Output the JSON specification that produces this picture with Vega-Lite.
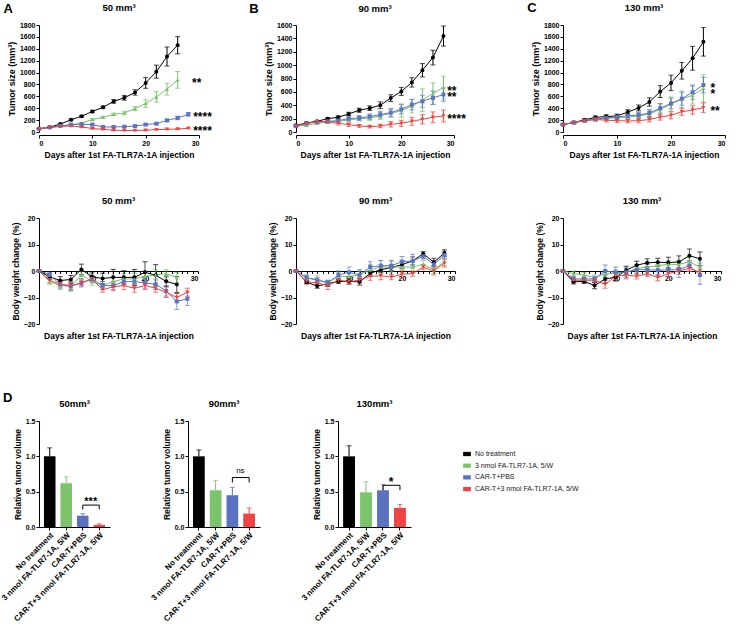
{
"$schema":"https://vega.github.io/schema/vega-lite/v6.json",
"padding":{"left":0,"top":2,"right":0,"bottom":0},
"background":"white",
"spacing":52,
"resolve":{"scale":{"color":"independent","shape":"independent"},"legend":{"color":"independent","shape":"independent"}},
"datasets":{
"tum":[
{"p":"A","g":"N","d":0,"v":55,"e":5},{"p":"A","g":"N","d":2,"v":80,"e":8},{"p":"A","g":"N","d":4,"v":135,"e":12},{"p":"A","g":"N","d":6,"v":205,"e":15},{"p":"A","g":"N","d":8,"v":265,"e":15},{"p":"A","g":"N","d":10,"v":345,"e":20},{"p":"A","g":"N","d":12,"v":415,"e":22},{"p":"A","g":"N","d":14,"v":515,"e":30},{"p":"A","g":"N","d":16,"v":575,"e":40},{"p":"A","g":"N","d":18,"v":665,"e":45},{"p":"A","g":"N","d":20,"v":825,"e":90},{"p":"A","g":"N","d":22,"v":1015,"e":110},{"p":"A","g":"N","d":24,"v":1270,"e":160},{"p":"A","g":"N","d":26,"v":1460,"e":145},
{"p":"A","g":"G","d":0,"v":55,"e":5},{"p":"A","g":"G","d":2,"v":78,"e":6},{"p":"A","g":"G","d":4,"v":95,"e":8},{"p":"A","g":"G","d":6,"v":120,"e":10},{"p":"A","g":"G","d":8,"v":150,"e":12},{"p":"A","g":"G","d":10,"v":210,"e":15},{"p":"A","g":"G","d":12,"v":247,"e":18},{"p":"A","g":"G","d":14,"v":298,"e":22},{"p":"A","g":"G","d":16,"v":320,"e":30},{"p":"A","g":"G","d":18,"v":394,"e":35},{"p":"A","g":"G","d":20,"v":478,"e":65},{"p":"A","g":"G","d":22,"v":590,"e":90},{"p":"A","g":"G","d":24,"v":720,"e":100},{"p":"A","g":"G","d":26,"v":877,"e":140},
{"p":"A","g":"B","d":0,"v":55,"e":5},{"p":"A","g":"B","d":2,"v":78,"e":6},{"p":"A","g":"B","d":4,"v":105,"e":8},{"p":"A","g":"B","d":6,"v":125,"e":10},{"p":"A","g":"B","d":8,"v":130,"e":12},{"p":"A","g":"B","d":10,"v":125,"e":12},{"p":"A","g":"B","d":12,"v":85,"e":10},{"p":"A","g":"B","d":14,"v":85,"e":10},{"p":"A","g":"B","d":16,"v":90,"e":10},{"p":"A","g":"B","d":18,"v":100,"e":12},{"p":"A","g":"B","d":20,"v":125,"e":15},{"p":"A","g":"B","d":22,"v":140,"e":15},{"p":"A","g":"B","d":24,"v":195,"e":20},{"p":"A","g":"B","d":26,"v":236,"e":30},{"p":"A","g":"B","d":28,"v":298,"e":30},
{"p":"A","g":"R","d":0,"v":55,"e":5},{"p":"A","g":"R","d":2,"v":75,"e":6},{"p":"A","g":"R","d":4,"v":95,"e":8},{"p":"A","g":"R","d":6,"v":100,"e":10},{"p":"A","g":"R","d":8,"v":85,"e":10},{"p":"A","g":"R","d":10,"v":58,"e":10},{"p":"A","g":"R","d":12,"v":45,"e":8},{"p":"A","g":"R","d":14,"v":30,"e":6},{"p":"A","g":"R","d":16,"v":25,"e":5},{"p":"A","g":"R","d":18,"v":25,"e":5},{"p":"A","g":"R","d":20,"v":30,"e":5},{"p":"A","g":"R","d":22,"v":40,"e":6},{"p":"A","g":"R","d":24,"v":45,"e":6},{"p":"A","g":"R","d":26,"v":50,"e":6},{"p":"A","g":"R","d":28,"v":62,"e":8},
{"p":"B","g":"N","d":0,"v":100,"e":10},{"p":"B","g":"N","d":2,"v":135,"e":12},{"p":"B","g":"N","d":4,"v":160,"e":12},{"p":"B","g":"N","d":6,"v":200,"e":15},{"p":"B","g":"N","d":8,"v":220,"e":20},{"p":"B","g":"N","d":10,"v":270,"e":25},{"p":"B","g":"N","d":12,"v":325,"e":30},{"p":"B","g":"N","d":14,"v":356,"e":35},{"p":"B","g":"N","d":16,"v":400,"e":50},{"p":"B","g":"N","d":18,"v":507,"e":50},{"p":"B","g":"N","d":20,"v":607,"e":60},{"p":"B","g":"N","d":22,"v":742,"e":70},{"p":"B","g":"N","d":24,"v":923,"e":100},{"p":"B","g":"N","d":26,"v":1113,"e":110},{"p":"B","g":"N","d":28,"v":1435,"e":150},
{"p":"B","g":"G","d":0,"v":90,"e":10},{"p":"B","g":"G","d":2,"v":100,"e":15},{"p":"B","g":"G","d":4,"v":130,"e":15},{"p":"B","g":"G","d":6,"v":150,"e":20},{"p":"B","g":"G","d":8,"v":160,"e":25},{"p":"B","g":"G","d":10,"v":180,"e":30},{"p":"B","g":"G","d":12,"v":200,"e":35},{"p":"B","g":"G","d":14,"v":210,"e":40},{"p":"B","g":"G","d":16,"v":240,"e":50},{"p":"B","g":"G","d":18,"v":280,"e":60},{"p":"B","g":"G","d":20,"v":320,"e":100},{"p":"B","g":"G","d":22,"v":385,"e":100},{"p":"B","g":"G","d":24,"v":475,"e":170},{"p":"B","g":"G","d":26,"v":575,"e":160},{"p":"B","g":"G","d":28,"v":665,"e":170},
{"p":"B","g":"B","d":0,"v":90,"e":10},{"p":"B","g":"B","d":2,"v":130,"e":15},{"p":"B","g":"B","d":4,"v":150,"e":15},{"p":"B","g":"B","d":6,"v":160,"e":20},{"p":"B","g":"B","d":8,"v":170,"e":25},{"p":"B","g":"B","d":10,"v":200,"e":30},{"p":"B","g":"B","d":12,"v":210,"e":35},{"p":"B","g":"B","d":14,"v":230,"e":40},{"p":"B","g":"B","d":16,"v":260,"e":50},{"p":"B","g":"B","d":18,"v":290,"e":60},{"p":"B","g":"B","d":20,"v":340,"e":70},{"p":"B","g":"B","d":22,"v":410,"e":80},{"p":"B","g":"B","d":24,"v":460,"e":90},{"p":"B","g":"B","d":26,"v":510,"e":100},{"p":"B","g":"B","d":28,"v":560,"e":100},
{"p":"B","g":"R","d":0,"v":90,"e":10},{"p":"B","g":"R","d":2,"v":130,"e":15},{"p":"B","g":"R","d":4,"v":150,"e":15},{"p":"B","g":"R","d":6,"v":150,"e":20},{"p":"B","g":"R","d":8,"v":130,"e":25},{"p":"B","g":"R","d":10,"v":110,"e":25},{"p":"B","g":"R","d":12,"v":90,"e":20},{"p":"B","g":"R","d":14,"v":80,"e":20},{"p":"B","g":"R","d":16,"v":90,"e":25},{"p":"B","g":"R","d":18,"v":115,"e":40},{"p":"B","g":"R","d":20,"v":130,"e":45},{"p":"B","g":"R","d":22,"v":160,"e":60},{"p":"B","g":"R","d":24,"v":190,"e":70},{"p":"B","g":"R","d":26,"v":220,"e":80},{"p":"B","g":"R","d":28,"v":240,"e":90},
{"p":"C","g":"N","d":0,"v":125,"e":10},{"p":"C","g":"N","d":2,"v":160,"e":15},{"p":"C","g":"N","d":4,"v":205,"e":20},{"p":"C","g":"N","d":6,"v":245,"e":25},{"p":"C","g":"N","d":8,"v":260,"e":30},{"p":"C","g":"N","d":10,"v":270,"e":30},{"p":"C","g":"N","d":12,"v":335,"e":40},{"p":"C","g":"N","d":14,"v":405,"e":50},{"p":"C","g":"N","d":16,"v":505,"e":70},{"p":"C","g":"N","d":18,"v":680,"e":100},{"p":"C","g":"N","d":20,"v":826,"e":130},{"p":"C","g":"N","d":22,"v":1030,"e":140},{"p":"C","g":"N","d":24,"v":1240,"e":200},{"p":"C","g":"N","d":26,"v":1517,"e":240},
{"p":"C","g":"G","d":0,"v":125,"e":10},{"p":"C","g":"G","d":2,"v":160,"e":15},{"p":"C","g":"G","d":4,"v":190,"e":20},{"p":"C","g":"G","d":6,"v":215,"e":25},{"p":"C","g":"G","d":8,"v":230,"e":30},{"p":"C","g":"G","d":10,"v":240,"e":35},{"p":"C","g":"G","d":12,"v":250,"e":40},{"p":"C","g":"G","d":14,"v":270,"e":45},{"p":"C","g":"G","d":16,"v":300,"e":60},{"p":"C","g":"G","d":18,"v":380,"e":90},{"p":"C","g":"G","d":20,"v":470,"e":120},{"p":"C","g":"G","d":22,"v":550,"e":140},{"p":"C","g":"G","d":24,"v":620,"e":150},{"p":"C","g":"G","d":26,"v":730,"e":230},
{"p":"C","g":"B","d":0,"v":125,"e":10},{"p":"C","g":"B","d":2,"v":160,"e":15},{"p":"C","g":"B","d":4,"v":190,"e":20},{"p":"C","g":"B","d":6,"v":215,"e":25},{"p":"C","g":"B","d":8,"v":235,"e":30},{"p":"C","g":"B","d":10,"v":255,"e":35},{"p":"C","g":"B","d":12,"v":270,"e":40},{"p":"C","g":"B","d":14,"v":285,"e":45},{"p":"C","g":"B","d":16,"v":320,"e":60},{"p":"C","g":"B","d":18,"v":400,"e":80},{"p":"C","g":"B","d":20,"v":480,"e":90},{"p":"C","g":"B","d":22,"v":560,"e":110},{"p":"C","g":"B","d":24,"v":670,"e":120},{"p":"C","g":"B","d":26,"v":790,"e":130},
{"p":"C","g":"R","d":0,"v":125,"e":10},{"p":"C","g":"R","d":2,"v":160,"e":15},{"p":"C","g":"R","d":4,"v":190,"e":20},{"p":"C","g":"R","d":6,"v":210,"e":25},{"p":"C","g":"R","d":8,"v":200,"e":30},{"p":"C","g":"R","d":10,"v":190,"e":30},{"p":"C","g":"R","d":12,"v":185,"e":30},{"p":"C","g":"R","d":14,"v":190,"e":35},{"p":"C","g":"R","d":16,"v":210,"e":40},{"p":"C","g":"R","d":18,"v":250,"e":50},{"p":"C","g":"R","d":20,"v":280,"e":60},{"p":"C","g":"R","d":22,"v":340,"e":60},{"p":"C","g":"R","d":24,"v":370,"e":70},{"p":"C","g":"R","d":26,"v":410,"e":80}
],
"bw":[
{"p":"A","g":"N","d":0,"v":0,"e":0.3},{"p":"A","g":"N","d":2,"v":-2.2,"e":1},{"p":"A","g":"N","d":4,"v":-3.6,"e":1.5},{"p":"A","g":"N","d":6,"v":-3.2,"e":1.5},{"p":"A","g":"N","d":8,"v":0.6,"e":2},{"p":"A","g":"N","d":10,"v":-2.2,"e":1.5},{"p":"A","g":"N","d":12,"v":-2.8,"e":2},{"p":"A","g":"N","d":14,"v":-2.4,"e":3},{"p":"A","g":"N","d":16,"v":-2.4,"e":2.5},{"p":"A","g":"N","d":18,"v":-2.4,"e":3},{"p":"A","g":"N","d":20,"v":-0.5,"e":4},{"p":"A","g":"N","d":22,"v":-1.6,"e":4},{"p":"A","g":"N","d":24,"v":-3.9,"e":2},{"p":"A","g":"N","d":26,"v":-5.1,"e":3},
{"p":"A","g":"G","d":0,"v":0,"e":0.3},{"p":"A","g":"G","d":2,"v":-4,"e":1},{"p":"A","g":"G","d":4,"v":-5.5,"e":1.5},{"p":"A","g":"G","d":6,"v":-5.8,"e":2},{"p":"A","g":"G","d":8,"v":-1.5,"e":1.5},{"p":"A","g":"G","d":10,"v":-4,"e":1.5},{"p":"A","g":"G","d":12,"v":-5.5,"e":1.5},{"p":"A","g":"G","d":14,"v":-4,"e":2},{"p":"A","g":"G","d":16,"v":-3,"e":2},{"p":"A","g":"G","d":18,"v":-3,"e":2},{"p":"A","g":"G","d":20,"v":-2,"e":2},{"p":"A","g":"G","d":22,"v":-1.5,"e":2},{"p":"A","g":"G","d":24,"v":-1,"e":1.5},{"p":"A","g":"G","d":26,"v":-2.5,"e":2},
{"p":"A","g":"B","d":0,"v":0,"e":0.3},{"p":"A","g":"B","d":2,"v":-1.5,"e":1},{"p":"A","g":"B","d":4,"v":-5,"e":1.5},{"p":"A","g":"B","d":6,"v":-5.8,"e":1.5},{"p":"A","g":"B","d":8,"v":-4.5,"e":1.5},{"p":"A","g":"B","d":10,"v":-3,"e":1.5},{"p":"A","g":"B","d":12,"v":-5.5,"e":1.5},{"p":"A","g":"B","d":14,"v":-5.5,"e":1.5},{"p":"A","g":"B","d":16,"v":-4,"e":1.5},{"p":"A","g":"B","d":18,"v":-4,"e":2},{"p":"A","g":"B","d":20,"v":-4.5,"e":2},{"p":"A","g":"B","d":22,"v":-5,"e":2},{"p":"A","g":"B","d":24,"v":-7.5,"e":2},{"p":"A","g":"B","d":26,"v":-11.5,"e":3},{"p":"A","g":"B","d":28,"v":-10.5,"e":2.5},
{"p":"A","g":"R","d":0,"v":0,"e":0.3},{"p":"A","g":"R","d":2,"v":-3.5,"e":1},{"p":"A","g":"R","d":4,"v":-5,"e":1},{"p":"A","g":"R","d":6,"v":-5.5,"e":1.5},{"p":"A","g":"R","d":8,"v":-4.5,"e":1},{"p":"A","g":"R","d":10,"v":-3,"e":1},{"p":"A","g":"R","d":12,"v":-7,"e":1},{"p":"A","g":"R","d":14,"v":-6,"e":1.5},{"p":"A","g":"R","d":16,"v":-5.5,"e":1.5},{"p":"A","g":"R","d":18,"v":-6.5,"e":1.5},{"p":"A","g":"R","d":20,"v":-5.5,"e":1.5},{"p":"A","g":"R","d":22,"v":-6.5,"e":1.5},{"p":"A","g":"R","d":24,"v":-8,"e":2},{"p":"A","g":"R","d":26,"v":-10,"e":1.5},{"p":"A","g":"R","d":28,"v":-8,"e":1.5},
{"p":"B","g":"N","d":0,"v":0,"e":0.3},{"p":"B","g":"N","d":2,"v":-4.2,"e":0.5},{"p":"B","g":"N","d":4,"v":-5.7,"e":0.8},{"p":"B","g":"N","d":6,"v":-4.8,"e":1},{"p":"B","g":"N","d":8,"v":-3.9,"e":0.8},{"p":"B","g":"N","d":10,"v":-3.9,"e":1},{"p":"B","g":"N","d":12,"v":-4.1,"e":1.2},{"p":"B","g":"N","d":14,"v":-0.9,"e":1},{"p":"B","g":"N","d":16,"v":0.5,"e":1},{"p":"B","g":"N","d":18,"v":1.3,"e":1},{"p":"B","g":"N","d":20,"v":2.4,"e":1.5},{"p":"B","g":"N","d":22,"v":3.8,"e":1.5},{"p":"B","g":"N","d":24,"v":6.5,"e":0.8},{"p":"B","g":"N","d":26,"v":3.3,"e":1.5},{"p":"B","g":"N","d":28,"v":6.8,"e":1.2},
{"p":"B","g":"G","d":0,"v":0,"e":0.3},{"p":"B","g":"G","d":2,"v":-2.8,"e":1.2},{"p":"B","g":"G","d":4,"v":-3,"e":1.2},{"p":"B","g":"G","d":6,"v":-4.5,"e":1},{"p":"B","g":"G","d":8,"v":-2,"e":1.5},{"p":"B","g":"G","d":10,"v":-2,"e":1.5},{"p":"B","g":"G","d":12,"v":-1.5,"e":1.5},{"p":"B","g":"G","d":14,"v":0.5,"e":2},{"p":"B","g":"G","d":16,"v":1.5,"e":2.5},{"p":"B","g":"G","d":18,"v":1.5,"e":2},{"p":"B","g":"G","d":20,"v":1.5,"e":2},{"p":"B","g":"G","d":22,"v":1.5,"e":2},{"p":"B","g":"G","d":24,"v":2.5,"e":1.5},{"p":"B","g":"G","d":26,"v":0.5,"e":1.5},{"p":"B","g":"G","d":28,"v":3.5,"e":1.5},
{"p":"B","g":"B","d":0,"v":0,"e":0.3},{"p":"B","g":"B","d":2,"v":-2.5,"e":1},{"p":"B","g":"B","d":4,"v":-3.5,"e":1},{"p":"B","g":"B","d":6,"v":-4.5,"e":1},{"p":"B","g":"B","d":8,"v":-1.5,"e":1.5},{"p":"B","g":"B","d":10,"v":-0.5,"e":2},{"p":"B","g":"B","d":12,"v":-1.5,"e":2},{"p":"B","g":"B","d":14,"v":1.5,"e":2},{"p":"B","g":"B","d":16,"v":2,"e":2},{"p":"B","g":"B","d":18,"v":2,"e":2},{"p":"B","g":"B","d":20,"v":3.5,"e":2},{"p":"B","g":"B","d":22,"v":3.8,"e":2.5},{"p":"B","g":"B","d":24,"v":5.5,"e":1},{"p":"B","g":"B","d":26,"v":2.5,"e":1.5},{"p":"B","g":"B","d":28,"v":6,"e":1.5},
{"p":"B","g":"R","d":0,"v":0,"e":0.3},{"p":"B","g":"R","d":2,"v":-4,"e":1},{"p":"B","g":"R","d":4,"v":-4.5,"e":1},{"p":"B","g":"R","d":6,"v":-5.5,"e":1.5},{"p":"B","g":"R","d":8,"v":-3.5,"e":1},{"p":"B","g":"R","d":10,"v":-4,"e":1},{"p":"B","g":"R","d":12,"v":-3.5,"e":1},{"p":"B","g":"R","d":14,"v":-2,"e":1.5},{"p":"B","g":"R","d":16,"v":-1.8,"e":1.5},{"p":"B","g":"R","d":18,"v":-2.3,"e":1},{"p":"B","g":"R","d":20,"v":-1.2,"e":1.5},{"p":"B","g":"R","d":22,"v":-1,"e":1},{"p":"B","g":"R","d":24,"v":1.5,"e":1},{"p":"B","g":"R","d":26,"v":0,"e":1.5},{"p":"B","g":"R","d":28,"v":3,"e":1.5},
{"p":"C","g":"N","d":0,"v":0,"e":0.3},{"p":"C","g":"N","d":2,"v":-4.1,"e":0.8},{"p":"C","g":"N","d":4,"v":-3.9,"e":0.8},{"p":"C","g":"N","d":6,"v":-5.5,"e":1.2},{"p":"C","g":"N","d":8,"v":-3,"e":1.5},{"p":"C","g":"N","d":10,"v":-2.3,"e":1.5},{"p":"C","g":"N","d":12,"v":0.3,"e":1.5},{"p":"C","g":"N","d":14,"v":2.2,"e":1.5},{"p":"C","g":"N","d":16,"v":3.1,"e":1.5},{"p":"C","g":"N","d":18,"v":3.3,"e":1.5},{"p":"C","g":"N","d":20,"v":3.2,"e":2},{"p":"C","g":"N","d":22,"v":3.4,"e":2.3},{"p":"C","g":"N","d":24,"v":5.8,"e":2.5},{"p":"C","g":"N","d":26,"v":4.6,"e":2.6},
{"p":"C","g":"G","d":0,"v":0,"e":0.3},{"p":"C","g":"G","d":2,"v":-1,"e":1},{"p":"C","g":"G","d":4,"v":-1.5,"e":1},{"p":"C","g":"G","d":6,"v":-2.5,"e":1},{"p":"C","g":"G","d":8,"v":-1,"e":1.5},{"p":"C","g":"G","d":10,"v":-1,"e":1.5},{"p":"C","g":"G","d":12,"v":-0.5,"e":1.5},{"p":"C","g":"G","d":14,"v":1,"e":1.5},{"p":"C","g":"G","d":16,"v":1.5,"e":1.5},{"p":"C","g":"G","d":18,"v":2,"e":1.5},{"p":"C","g":"G","d":20,"v":2.5,"e":1.5},{"p":"C","g":"G","d":22,"v":2.5,"e":1.5},{"p":"C","g":"G","d":24,"v":3.5,"e":1.5},{"p":"C","g":"G","d":26,"v":1.5,"e":1.5},
{"p":"C","g":"B","d":0,"v":0,"e":0.3},{"p":"C","g":"B","d":2,"v":-3,"e":1},{"p":"C","g":"B","d":4,"v":-3,"e":1},{"p":"C","g":"B","d":6,"v":-3,"e":1},{"p":"C","g":"B","d":8,"v":0,"e":2.3},{"p":"C","g":"B","d":10,"v":-0.5,"e":2},{"p":"C","g":"B","d":12,"v":-0.5,"e":2},{"p":"C","g":"B","d":14,"v":0.5,"e":2},{"p":"C","g":"B","d":16,"v":0.5,"e":2},{"p":"C","g":"B","d":18,"v":0.3,"e":2},{"p":"C","g":"B","d":20,"v":0.5,"e":2.5},{"p":"C","g":"B","d":22,"v":0.5,"e":3},{"p":"C","g":"B","d":24,"v":2,"e":2},{"p":"C","g":"B","d":26,"v":-1.5,"e":3.5},
{"p":"C","g":"R","d":0,"v":0,"e":0.3},{"p":"C","g":"R","d":2,"v":-3.5,"e":0.8},{"p":"C","g":"R","d":4,"v":-3.5,"e":0.8},{"p":"C","g":"R","d":6,"v":-3.5,"e":1},{"p":"C","g":"R","d":8,"v":-5,"e":1.5},{"p":"C","g":"R","d":10,"v":-2,"e":1.5},{"p":"C","g":"R","d":12,"v":-1.5,"e":1.5},{"p":"C","g":"R","d":14,"v":-2,"e":1},{"p":"C","g":"R","d":16,"v":-1,"e":1},{"p":"C","g":"R","d":18,"v":-2.5,"e":1.2},{"p":"C","g":"R","d":20,"v":-1,"e":1},{"p":"C","g":"R","d":22,"v":0,"e":1.2},{"p":"C","g":"R","d":24,"v":1,"e":1.2},{"p":"C","g":"R","d":26,"v":-0.5,"e":1.2}
],
"bar":[
{"p":"50","g":"No treatment","v":1.0,"hi":1.12},{"p":"50","g":"3 nmol FA-TLR7-1A, 5/W","v":0.62,"hi":0.71},{"p":"50","g":"CAR-T+PBS","v":0.16,"hi":0.19},{"p":"50","g":"CAR-T+3 nmol FA-TLR7-1A, 5/W","v":0.03,"hi":0.045},
{"p":"90","g":"No treatment","v":1.0,"hi":1.09},{"p":"90","g":"3 nmol FA-TLR7-1A, 5/W","v":0.52,"hi":0.66},{"p":"90","g":"CAR-T+PBS","v":0.45,"hi":0.56},{"p":"90","g":"CAR-T+3 nmol FA-TLR7-1A, 5/W","v":0.19,"hi":0.27},
{"p":"130","g":"No treatment","v":1.0,"hi":1.15},{"p":"130","g":"3 nmol FA-TLR7-1A, 5/W","v":0.49,"hi":0.64},{"p":"130","g":"CAR-T+PBS","v":0.52,"hi":0.6},{"p":"130","g":"CAR-T+3 nmol FA-TLR7-1A, 5/W","v":0.27,"hi":0.32}
]
},
"vconcat":[
{"bounds":"flush","columns":5,"spacing":{"row":0,"column":0},"align":{"row":"each","column":"none"},
 "resolve":{"scale":{"color":"independent","shape":"independent"},"legend":{"color":"independent","shape":"independent"}},
 "concat":[
{"width":160,"height":107,"title":{"text":"50 mm³","offset":-9.5},
 "data":{"name":"tum"},"transform":[{"filter":"datum.p==='A'"}],
 "encoding":{
  "x":{"field":"d","type":"quantitative","scale":{"domain":[0,30],"nice":false},"axis":{"values":[0,10,20,30],"title":"Days after 1st FA-TLR7A-1A injection","offset":3,"titlePadding":4}},
  "y":{"field":"v","type":"quantitative","scale":{"domain":[0,1800],"nice":false},"axis":{"values":[0,200,400,600,800,1000,1200,1400,1600,1800],"format":"d","title":"Tumor size (mm³)","titleFontSize":9}},
  "color":{"field":"g","type":"nominal","scale":{"domain":["N","G","B","R"],"range":["#000000","#79c267","#5b74c6","#f0413e"]},"legend":null}},
 "layer":[
  {"mark":{"type":"errorbar","ticks":true,"thickness":1},"encoding":{"yError":{"field":"e"}}},
  {"mark":{"type":"line","strokeWidth":1},"encoding":{}},
  {"mark":{"type":"point","filled":true,"size":16,"opacity":1},"encoding":{"shape":{"field":"g","type":"nominal","scale":{"domain":["N","G","B","R"],"range":["circle","triangle-up","square","triangle-down"]},"legend":null}}},
  {"data":{"values":[{"p":"A","d":28.7,"v":872,"t":"**"},{"p":"A","d":28.9,"v":309,"t":"****"},{"p":"A","d":28.9,"v":67,"t":"****"}]},"mark":{"type":"text","align":"left","baseline":"middle","fontSize":12,"fontWeight":"bold","dy":3},"encoding":{"text":{"field":"t"},"color":{"value":"#000000"}}},
  {"data":{"values":[{"p":"A","d":-5.8,"v":2061,"t":"A"}]},"mark":{"type":"text","align":"center","baseline":"middle","fontSize":13,"fontWeight":"bold"},"encoding":{"text":{"field":"t"},"color":{"value":"#000000"}}}
 ]},
{"width":96,"height":1,"data":{"values":[]},"mark":"point"},
{"width":158,"height":107,"title":{"text":"90 mm³","offset":-10},
 "data":{"name":"tum"},"transform":[{"filter":"datum.p==='B'"}],
 "encoding":{
  "x":{"field":"d","type":"quantitative","scale":{"domain":[0,30],"nice":false},"axis":{"values":[0,10,20,30],"title":"Days after 1st FA-TLR7A-1A injection","offset":3,"titlePadding":4}},
  "y":{"field":"v","type":"quantitative","scale":{"domain":[0,1600],"nice":false},"axis":{"values":[0,200,400,600,800,1000,1200,1400,1600],"format":"d","title":"Tumor size (mm³)","titleFontSize":9}},
  "color":{"field":"g","type":"nominal","scale":{"domain":["N","G","B","R"],"range":["#000000","#79c267","#5b74c6","#f0413e"]},"legend":null}},
 "layer":[
  {"mark":{"type":"errorbar","ticks":true,"thickness":1},"encoding":{"yError":{"field":"e"}}},
  {"mark":{"type":"line","strokeWidth":1},"encoding":{}},
  {"mark":{"type":"point","filled":true,"size":16,"opacity":1},"encoding":{"shape":{"field":"g","type":"nominal","scale":{"domain":["N","G","B","R"],"range":["circle","triangle-up","square","triangle-down"]},"legend":null}}},
  {"data":{"values":[{"p":"B","d":28.7,"v":662,"t":"**"},{"p":"B","d":28.7,"v":562,"t":"**"},{"p":"B","d":28.7,"v":236,"t":"****"}]},"mark":{"type":"text","align":"left","baseline":"middle","fontSize":12,"fontWeight":"bold","dy":3},"encoding":{"text":{"field":"t"},"color":{"value":"#000000"}}},
  {"data":{"values":[{"p":"B","d":-8.0,"v":1839,"t":"B"}]},"mark":{"type":"text","align":"center","baseline":"middle","fontSize":13,"fontWeight":"bold"},"encoding":{"text":{"field":"t"},"color":{"value":"#000000"}}}
 ]},
{"width":106,"height":1,"data":{"values":[]},"mark":"point"},
{"width":162,"height":107,"title":{"text":"130 mm³","offset":-10.5},
 "data":{"name":"tum"},"transform":[{"filter":"datum.p==='C'"}],
 "encoding":{
  "x":{"field":"d","type":"quantitative","scale":{"domain":[0,30],"nice":false},"axis":{"values":[0,10,20,30],"title":"Days after 1st FA-TLR7A-1A injection","offset":3,"titlePadding":4}},
  "y":{"field":"v","type":"quantitative","scale":{"domain":[0,1800],"nice":false},"axis":{"values":[0,200,400,600,800,1000,1200,1400,1600,1800],"format":"d","title":"Tumor size (mm³)","titleFontSize":9}},
  "color":{"field":"g","type":"nominal","scale":{"domain":["N","G","B","R"],"range":["#000000","#79c267","#5b74c6","#f0413e"]},"legend":null}},
 "layer":[
  {"mark":{"type":"errorbar","ticks":true,"thickness":1},"encoding":{"yError":{"field":"e"}}},
  {"mark":{"type":"line","strokeWidth":1},"encoding":{}},
  {"mark":{"type":"point","filled":true,"size":16,"opacity":1},"encoding":{"shape":{"field":"g","type":"nominal","scale":{"domain":["N","G","B","R"],"range":["circle","triangle-up","square","triangle-down"]},"legend":null}}},
  {"data":{"values":[{"p":"C","d":27.3,"v":792,"t":"*"},{"p":"C","d":27.3,"v":696,"t":"*"},{"p":"C","d":27.3,"v":396,"t":"**"}]},"mark":{"type":"text","align":"left","baseline":"middle","fontSize":12,"fontWeight":"bold","dy":3},"encoding":{"text":{"field":"t"},"color":{"value":"#000000"}}},
  {"data":{"values":[{"p":"C","d":-5.74,"v":2078,"t":"C"}]},"mark":{"type":"text","align":"center","baseline":"middle","fontSize":13,"fontWeight":"bold"},"encoding":{"text":{"field":"t"},"color":{"value":"#000000"}}}
 ]},
{"width":1,"height":86,"data":{"values":[]},"mark":"point"},
{"width":1,"height":86,"data":{"values":[]},"mark":"point"},
{"width":1,"height":86,"data":{"values":[]},"mark":"point"},
{"width":1,"height":86,"data":{"values":[]},"mark":"point"},
{"width":1,"height":86,"data":{"values":[]},"mark":"point"},
{"width":159,"height":106,"title":"50 mm³",
 "data":{"name":"bw"},"transform":[{"filter":"datum.p==='A'"}],
 "encoding":{
  "x":{"field":"d","type":"quantitative","scale":{"domain":[0,30],"nice":false},"axis":{"values":[0,1,2,3,4,5,6,7,8,9,10,11,12,13,14,15,16,17,18,19,20,21,22,23,24,25,26,27,28,29,30],"labelExpr":"datum.value % 10 === 0 && datum.value > 0 ? datum.label : ''","labelOverlap":false,"offset":-53,"tickSize":2.5,"title":"Days after 1st FA-TLR7A-1A injection","titlePadding":50}},
  "y":{"field":"v","type":"quantitative","scale":{"domain":[-20,20],"nice":false},"axis":{"values":[-20,-10,0,10,20],"title":"Body weight change (%)"}},
  "color":{"field":"g","type":"nominal","scale":{"domain":["N","G","B","R"],"range":["#000000","#79c267","#5b74c6","#f0413e"]},"legend":null}},
 "layer":[
  {"mark":{"type":"errorbar","ticks":true,"thickness":1,"opacity":0.7},"encoding":{"yError":{"field":"e"}}},
  {"mark":{"type":"line","strokeWidth":1},"encoding":{}},
  {"mark":{"type":"point","filled":true,"size":16,"opacity":1},"encoding":{"shape":{"field":"g","type":"nominal","scale":{"domain":["N","G","B","R"],"range":["circle","triangle-up","square","triangle-down"]},"legend":null}}}
 ]},
{"width":97,"height":1,"data":{"values":[]},"mark":"point"},
{"width":159,"height":106,"title":"90 mm³",
 "data":{"name":"bw"},"transform":[{"filter":"datum.p==='B'"}],
 "encoding":{
  "x":{"field":"d","type":"quantitative","scale":{"domain":[0,30],"nice":false},"axis":{"values":[0,1,2,3,4,5,6,7,8,9,10,11,12,13,14,15,16,17,18,19,20,21,22,23,24,25,26,27,28,29,30],"labelExpr":"datum.value % 10 === 0 && datum.value > 0 ? datum.label : ''","labelOverlap":false,"offset":-53,"tickSize":2.5,"title":"Days after 1st FA-TLR7A-1A injection","titlePadding":50}},
  "y":{"field":"v","type":"quantitative","scale":{"domain":[-20,20],"nice":false},"axis":{"values":[-20,-10,0,10,20],"title":"Body weight change (%)"}},
  "color":{"field":"g","type":"nominal","scale":{"domain":["N","G","B","R"],"range":["#000000","#79c267","#5b74c6","#f0413e"]},"legend":null}},
 "layer":[
  {"mark":{"type":"errorbar","ticks":true,"thickness":1,"opacity":0.7},"encoding":{"yError":{"field":"e"}}},
  {"mark":{"type":"line","strokeWidth":1},"encoding":{}},
  {"mark":{"type":"point","filled":true,"size":16,"opacity":1},"encoding":{"shape":{"field":"g","type":"nominal","scale":{"domain":["N","G","B","R"],"range":["circle","triangle-up","square","triangle-down"]},"legend":null}}}
 ]},
{"width":108,"height":1,"data":{"values":[]},"mark":"point"},
{"width":158,"height":106,"title":"130 mm³",
 "data":{"name":"bw"},"transform":[{"filter":"datum.p==='C'"}],
 "encoding":{
  "x":{"field":"d","type":"quantitative","scale":{"domain":[0,30],"nice":false},"axis":{"values":[0,1,2,3,4,5,6,7,8,9,10,11,12,13,14,15,16,17,18,19,20,21,22,23,24,25,26,27,28,29,30],"labelExpr":"datum.value % 10 === 0 && datum.value > 0 ? datum.label : ''","labelOverlap":false,"offset":-53,"tickSize":2.5,"title":"Days after 1st FA-TLR7A-1A injection","titlePadding":50}},
  "y":{"field":"v","type":"quantitative","scale":{"domain":[-20,20],"nice":false},"axis":{"values":[-20,-10,0,10,20],"title":"Body weight change (%)"}},
  "color":{"field":"g","type":"nominal","scale":{"domain":["N","G","B","R"],"range":["#000000","#79c267","#5b74c6","#f0413e"]},"legend":null}},
 "layer":[
  {"mark":{"type":"errorbar","ticks":true,"thickness":1,"opacity":0.7},"encoding":{"yError":{"field":"e"}}},
  {"mark":{"type":"line","strokeWidth":1},"encoding":{}},
  {"mark":{"type":"point","filled":true,"size":16,"opacity":1},"encoding":{"shape":{"field":"g","type":"nominal","scale":{"domain":["N","G","B","R"],"range":["circle","triangle-up","square","triangle-down"]},"legend":null}}}
 ]}
]},
{"bounds":"flush","spacing":78,
 "resolve":{"scale":{"color":"independent"},"legend":{"color":"independent"}},
 "hconcat":[
{"width":71,"height":106,"title":{"text":"50mm³","offset":-16},
 "data":{"name":"bar"},"transform":[{"filter":"datum.p==='50'"}],
 "encoding":{
  "x":{"field":"g","type":"nominal","scale":{"domain":["No treatment","3 nmol FA-TLR7-1A, 5/W","CAR-T+PBS","CAR-T+3 nmol FA-TLR7-1A, 5/W"],"paddingInner":0.3,"paddingOuter":0.3},"axis":{"title":null,"labelAngle":-45,"labelFontSize":8}},
  "y":{"field":"v","type":"quantitative","scale":{"domain":[0,1.5],"nice":false},"axis":{"values":[0,0.5,1,1.5],"format":".1f","title":"Relative tumor volume"}},
  "color":{"field":"g","type":"nominal","scale":{"domain":["No treatment","3 nmol FA-TLR7-1A, 5/W","CAR-T+PBS","CAR-T+3 nmol FA-TLR7-1A, 5/W"],"range":["#000000","#7cc46c","#5b72c2","#ef4444"]},"legend":null}},
 "layer":[
  {"mark":{"type":"rule","strokeWidth":1},"encoding":{"y2":{"field":"hi"}}},
  {"mark":{"type":"tick","thickness":1,"size":5},"encoding":{"y":{"field":"hi","type":"quantitative"}}},
  {"mark":{"type":"bar"},"encoding":{}},
  {"data":{"values":[{"p":"50","g":"CAR-T+PBS","g2":"CAR-T+3 nmol FA-TLR7-1A, 5/W","v":0.31}]},"mark":{"type":"rule","strokeWidth":1},"encoding":{"x2":{"field":"g2"},"color":{"value":"#000000"}}},
  {"data":{"values":[{"p":"50","g":"CAR-T+PBS","v":0.31,"v2":0.25},{"p":"50","g":"CAR-T+3 nmol FA-TLR7-1A, 5/W","v":0.31,"v2":0.25}]},"mark":{"type":"rule","strokeWidth":1},"encoding":{"y2":{"field":"v2"},"color":{"value":"#000000"}}},
  {"data":{"values":[{"p":"50","g":"CAR-T+PBS","v":0.40,"t":"***"}]},"mark":{"type":"text","fontSize":11,"fontWeight":"bold","dx":8,"dy":3,"baseline":"middle"},"encoding":{"text":{"field":"t"},"color":{"value":"#000000"}}},
  {"data":{"values":[{"p":"50","g":"No treatment","v":1.825,"t":"D"}]},"mark":{"type":"text","fontSize":13,"fontWeight":"bold","dx":-42,"align":"center","baseline":"middle"},"encoding":{"text":{"field":"t"},"color":{"value":"#000000"}}}
 ]},
{"width":72,"height":106,"title":"90mm³",
 "data":{"name":"bar"},"transform":[{"filter":"datum.p==='90'"}],
 "encoding":{
  "x":{"field":"g","type":"nominal","scale":{"domain":["No treatment","3 nmol FA-TLR7-1A, 5/W","CAR-T+PBS","CAR-T+3 nmol FA-TLR7-1A, 5/W"],"paddingInner":0.3,"paddingOuter":0.3},"axis":{"title":null,"labelAngle":-45,"labelFontSize":8}},
  "y":{"field":"v","type":"quantitative","scale":{"domain":[0,1.5],"nice":false},"axis":{"values":[0,0.5,1,1.5],"format":".1f","title":"Relative tumor volume"}},
  "color":{"field":"g","type":"nominal","scale":{"domain":["No treatment","3 nmol FA-TLR7-1A, 5/W","CAR-T+PBS","CAR-T+3 nmol FA-TLR7-1A, 5/W"],"range":["#000000","#7cc46c","#5b72c2","#ef4444"]},"legend":null}},
 "layer":[
  {"mark":{"type":"rule","strokeWidth":1},"encoding":{"y2":{"field":"hi"}}},
  {"mark":{"type":"tick","thickness":1,"size":5},"encoding":{"y":{"field":"hi","type":"quantitative"}}},
  {"mark":{"type":"bar"},"encoding":{}},
  {"data":{"values":[{"p":"90","g":"CAR-T+PBS","g2":"CAR-T+3 nmol FA-TLR7-1A, 5/W","v":0.70}]},"mark":{"type":"rule","strokeWidth":1},"encoding":{"x2":{"field":"g2"},"color":{"value":"#000000"}}},
  {"data":{"values":[{"p":"90","g":"CAR-T+PBS","v":0.70,"v2":0.63},{"p":"90","g":"CAR-T+3 nmol FA-TLR7-1A, 5/W","v":0.70,"v2":0.63}]},"mark":{"type":"rule","strokeWidth":1},"encoding":{"y2":{"field":"v2"},"color":{"value":"#000000"}}},
  {"data":{"values":[{"p":"90","g":"CAR-T+PBS","v":0.79,"t":"ns"}]},"mark":{"type":"text","fontSize":8,"dx":8,"baseline":"middle"},"encoding":{"text":{"field":"t"},"color":{"value":"#000000"}}}
 ]},
{"width":73,"height":106,"title":"130mm³",
 "data":{"name":"bar"},"transform":[{"filter":"datum.p==='130'"}],
 "encoding":{
  "x":{"field":"g","type":"nominal","scale":{"domain":["No treatment","3 nmol FA-TLR7-1A, 5/W","CAR-T+PBS","CAR-T+3 nmol FA-TLR7-1A, 5/W"],"paddingInner":0.3,"paddingOuter":0.3},"axis":{"title":null,"labelAngle":-45,"labelFontSize":8}},
  "y":{"field":"v","type":"quantitative","scale":{"domain":[0,1.5],"nice":false},"axis":{"values":[0,0.5,1,1.5],"format":".1f","title":"Relative tumor volume"}},
  "color":{"field":"g","type":"nominal","scale":{"domain":["No treatment","3 nmol FA-TLR7-1A, 5/W","CAR-T+PBS","CAR-T+3 nmol FA-TLR7-1A, 5/W"],"range":["#000000","#7cc46c","#5b72c2","#ef4444"]},"legend":{"orient":"none","legendX":125,"legendY":29,"title":null,"symbolType":"M-1,-0.55H1V0.55H-1Z","symbolSize":60,"symbolStrokeWidth":0,"labelFont":"Liberation Sans","labelFontSize":7,"labelFontWeight":"normal","labelColor":"#222222","rowPadding":4.7,"symbolOpacity":1}}},
 "layer":[
  {"mark":{"type":"rule","strokeWidth":1},"encoding":{"y2":{"field":"hi"}}},
  {"mark":{"type":"tick","thickness":1,"size":5},"encoding":{"y":{"field":"hi","type":"quantitative"}}},
  {"mark":{"type":"bar"},"encoding":{}},
  {"data":{"values":[{"p":"130","g":"CAR-T+PBS","g2":"CAR-T+3 nmol FA-TLR7-1A, 5/W","v":0.59}]},"mark":{"type":"rule","strokeWidth":1},"encoding":{"x2":{"field":"g2"},"color":{"value":"#000000"}}},
  {"data":{"values":[{"p":"130","g":"CAR-T+PBS","v":0.59,"v2":0.52},{"p":"130","g":"CAR-T+3 nmol FA-TLR7-1A, 5/W","v":0.59,"v2":0.52}]},"mark":{"type":"rule","strokeWidth":1},"encoding":{"y2":{"field":"v2"},"color":{"value":"#000000"}}},
  {"data":{"values":[{"p":"130","g":"CAR-T+PBS","v":0.68,"t":"*"}]},"mark":{"type":"text","fontSize":12,"fontWeight":"bold","dx":8,"dy":3,"baseline":"middle"},"encoding":{"text":{"field":"t"},"color":{"value":"#000000"}}}
 ]}
]}
],
"config":{
 "font":"Liberation Sans",
 "view":{"stroke":null},
 "axis":{"domainColor":"#000000","tickColor":"#000000","labelColor":"#000000","titleColor":"#000000","labelFont":"Liberation Sans","labelFontWeight":"bold","labelFontSize":7,"titleFont":"Liberation Sans","titleFontWeight":"bold","titleFontSize":8.5,"grid":false,"tickSize":3,"domainWidth":1,"tickWidth":1,"labelPadding":1,"titlePadding":3},
 "title":{"font":"Liberation Sans","fontWeight":"bold","fontSize":9.5,"color":"#000000","offset":9}
}
}
